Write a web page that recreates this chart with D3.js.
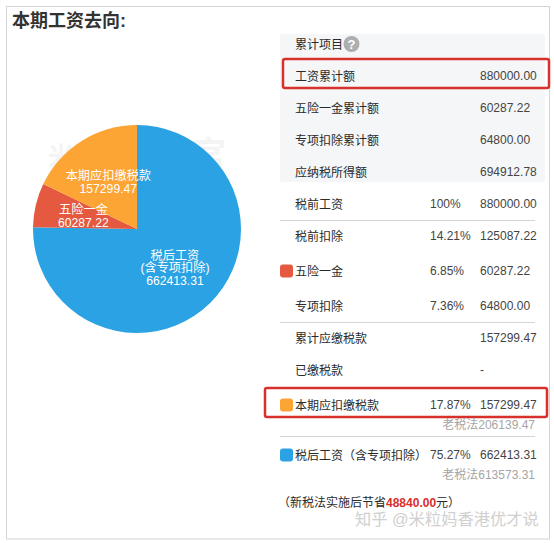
<!DOCTYPE html>
<html><head><meta charset="utf-8">
<script src="https://cdn.jsdelivr.net/npm/d3@7/dist/d3.min.js"></script>
<style>html,body{margin:0;padding:0;background:#fff}svg{display:block}
text{font-family:"Liberation Sans","Noto Sans CJK SC",sans-serif}</style></head>
<body><div id="c"></div>
<script>
const sliceNames = [["税后工资","(含专项扣除)"],["五险一金"],["本期应扣缴税款"]];
const sliceValues = [662413.31, 60287.22, 157299.47];
const sliceLabels = ["662413.31","60287.22","157299.47"];
const sliceColors = ["#2ba2e3","#e4593f","#fca434"];

const rowLabels = ["工资累计额","五险一金累计额","专项扣除累计额","应纳税所得额","税前工资","税前扣除","五险一金","专项扣除","累计应缴税款","已缴税款","本期应扣缴税款","税后工资（含专项扣除）"];
const rowPercents = ["","","","","100%","14.21%","6.85%","7.36%","","","17.87%","75.27%"];
const rowAmounts = ["880000.00","60287.22","64800.00","694912.78","880000.00","125087.22","60287.22","64800.00","157299.47","-","157299.47","662413.31"];
const rowSwatches = [null,null,null,null,null,null,1,null,null,null,2,0];
const oldTaxNotes = ["老税法206139.47","老税法613573.31"];

const W=554,H=543;
const svg=d3.select("#c").append("svg").attr("width",W).attr("height",H);

// frame
svg.append("rect").attr("x",6.5).attr("y",6.5).attr("width",543).attr("height",532.5).attr("fill","#fff").attr("stroke","#d2d5d8");
svg.append("text").attr("x",12).attr("y",27).attr("font-size",18).attr("font-weight",700).attr("fill","#333").text("本期工资去向:");

// faint watermark behind pie
svg.append("text").attr("x",48).attr("y",166).attr("font-size",26).attr("font-weight",700).attr("fill","#f4f4f4").text("米");
svg.append("text").attr("x",192).attr("y",166).attr("font-size",34).attr("font-weight",700).attr("fill","#f4f4f4").text("宫");

// pie
const cx=137,cy=229,R=104;
const pie=d3.pie().sort(null).value(d=>d);
const arc=d3.arc().innerRadius(0).outerRadius(R);
const g=svg.append("g").attr("transform",`translate(${cx},${cy})`);
const arcs=pie(sliceValues);
g.selectAll("path").data(arcs).join("path").attr("d",arc).attr("fill",(d,i)=>sliceColors[i]);
arcs.forEach((a,i)=>{
  const [x,y]=arc.centroid(a);
  const lines=[...sliceNames[i],sliceLabels[i]];
  const fs=12.2, lh=12.4, y0=y-(lines.length-1)*lh/2+[1.5,-1,-3][i]+fs*0.38, lx=x+[1.5,-3,-1][i];
  const label=g.append("text").attr("text-anchor","middle").attr("font-size",fs).attr("fill","#fff");
  lines.forEach((t,j)=>label.append("tspan").attr("x",lx).attr("y",y0+j*lh).text(t));
});

// table
const rowY=[76,108,140,172,204,236,271,306,338,370,405,455];
const ink="#2a2a2a", numInk="#444";
const dy="0.42em";
svg.append("rect").attr("x",280).attr("y",34).attr("width",265).attr("height",148).attr("fill","#f5f6f7").attr("rx",2);
svg.append("text").attr("x",295).attr("y",44).attr("dy",dy).attr("font-size",12).attr("fill",ink).text("累计项目");
svg.append("circle").attr("cx",351.5).attr("cy",44).attr("r",8).attr("fill","#aeaeae");
svg.append("text").attr("x",351.5).attr("y",44).attr("dy","0.37em").attr("text-anchor","middle").attr("font-size",13).attr("font-weight",700).attr("fill","#fff").text("?");

svg.selectAll("line.sep").data([220.5,322.5,436.5]).join("line").attr("class","sep")
 .attr("x1",280).attr("x2",535).attr("y1",d=>d).attr("y2",d=>d).attr("stroke","#d0d7dc");

rowLabels.forEach((t,i)=>{
  const y=rowY[i];
  svg.append("text").attr("x",295).attr("y",y).attr("dy",dy).attr("font-size",12).attr("fill",ink).text(t);
  if(rowPercents[i]) svg.append("text").attr("x",430).attr("y",y).attr("dy","0.36em").attr("font-size",12).attr("fill",numInk).text(rowPercents[i]);
  svg.append("text").attr("x",480).attr("y",y).attr("dy","0.36em").attr("font-size",12).attr("fill",numInk).text(rowAmounts[i]);
  if(rowSwatches[i]!==null) svg.append("rect").attr("x",280).attr("y",y-6.5).attr("width",13).attr("height",13).attr("rx",3).attr("fill",sliceColors[rowSwatches[i]]);
});
[425,475].forEach((y,i)=>svg.append("text").attr("x",535).attr("y",y).attr("dy","0.36em").attr("text-anchor","end").attr("font-size",12).attr("fill","#a5a5a5").text(oldTaxNotes[i]));

// red boxes
[[283,59,266,29],[265,388,282,29]].forEach(b=>svg.append("rect").attr("x",b[0]).attr("y",b[1]).attr("width",b[2]).attr("height",b[3]).attr("rx",2).attr("fill","none").attr("stroke","#d8302a").attr("stroke-width",2.5));

// footer
const f=svg.append("text").attr("x",278).attr("y",502).attr("dy",dy).attr("font-size",12).attr("fill",ink);
f.append("tspan").text("（新税法实施后节省");
f.append("tspan").attr("fill","#d8302a").attr("font-weight",700).text("48840.00");
f.append("tspan").text("元）");

// site watermark
svg.append("text").attr("x",355).attr("y",519).attr("dy","0.36em").attr("font-size",16.3).attr("fill","#d0d0d0").text("知乎 @米粒妈香港优才说");
</script></body></html>
